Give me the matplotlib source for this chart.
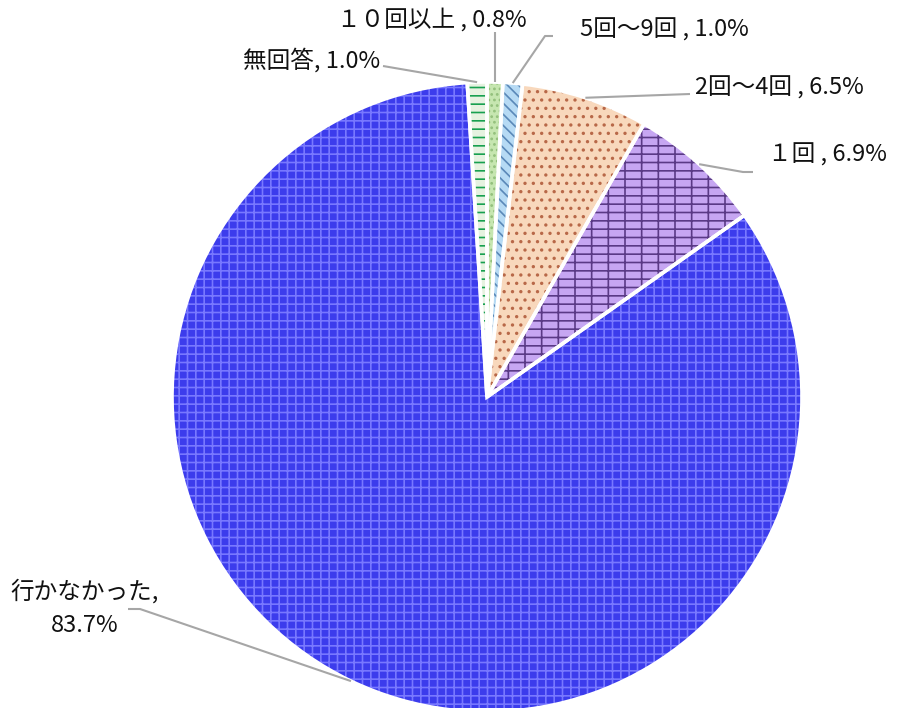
import matplotlib.pyplot as plt
import numpy as np

plt.rcParams['font.family'] = ['Noto Sans CJK JP', 'DejaVu Sans']
plt.rcParams['hatch.linewidth'] = 1.2

# data, clockwise from 12 o'clock
labels = ['１０回以上', '5回～9回', '2回～4回', '１回', '行かなかった', '無回答']
values = [0.8, 1.0, 6.5, 6.9, 83.7, 1.0]
label_text = ['１０回以上 , 0.8%', '5回～9回 , 1.0%', '2回～4回 , 6.5%',
              '１回 , 6.9%', '行かなかった,\n83.7%', '無回答, 1.0%']

faces = ['#c6e6b0', '#b6daf4', '#f8d8bc', '#c6a6f2', '#3c3cec', '#e6f2e0']
hatch_cols = ['#93c07c', '#5a88b8', '#b86848', '#5a3a86', '#7878ff', '#18a050']
hatches = ['...', '\\\\\\', '..', '--|', '++', '--']

W, H = 899, 708
fig = plt.figure(figsize=(W / 100, H / 100), dpi=100)
ax = fig.add_axes([0, 0, 1, 1])

cx, cy, R = 487, H - 397, 315

wedges, _ = ax.pie(values, startangle=90, counterclock=False,
                   center=(cx, cy), radius=R,
                   colors=faces, wedgeprops=dict(linewidth=0))
for w, hc, ht in zip(wedges, hatch_cols, hatches):
    w.set_hatch(ht)
    w.set_edgecolor(hc)
    w.set_linewidth(0)

# white borders on top
ax.pie(values, startangle=90, counterclock=False, center=(cx, cy), radius=R,
       colors=['none'] * len(values),
       wedgeprops=dict(linewidth=2.6, edgecolor='white', fill=False))

ax.set_xlim(0, W)
ax.set_ylim(0, H)
ax.set_aspect('equal')
ax.axis('off')

def py(y):
    return H - y

# label layout (pixels from top-left): text pos, alignment, leader elbow points
layout = [
    ((432, 20), 'center', [(None, 32)]),
    ((580, 30), 'left', [(545, 36), (553, 36)]),
    ((695, 88), 'left', [(690, 94)]),
    ((768, 155), 'left', [(743, 172), (753, 172)]),
    ((85, 608), 'center', [(140, 609), (128, 609)]),
    ((380, 60), 'right', [(383, 66)]),
]

for w, txt, (tpos, ha, elbows) in zip(wedges, label_text, layout):
    mid = np.deg2rad((w.theta1 + w.theta2) / 2)
    axp = cx + R * np.cos(mid)
    ayp = cy + R * np.sin(mid)
    xs, ys = [axp], [ayp]
    for ex, ey in elbows:
        xs.append(axp if ex is None else ex)
        ys.append(py(ey))
    ax.plot(xs, ys, color='#a6a6a6', lw=1.5, solid_capstyle='butt')
    ax.text(tpos[0], py(tpos[1]), txt, ha=ha, va='center', fontsize=17,
            color='#111111', linespacing=1.55, multialignment='center')

fig.savefig('out.png', dpi=100)
